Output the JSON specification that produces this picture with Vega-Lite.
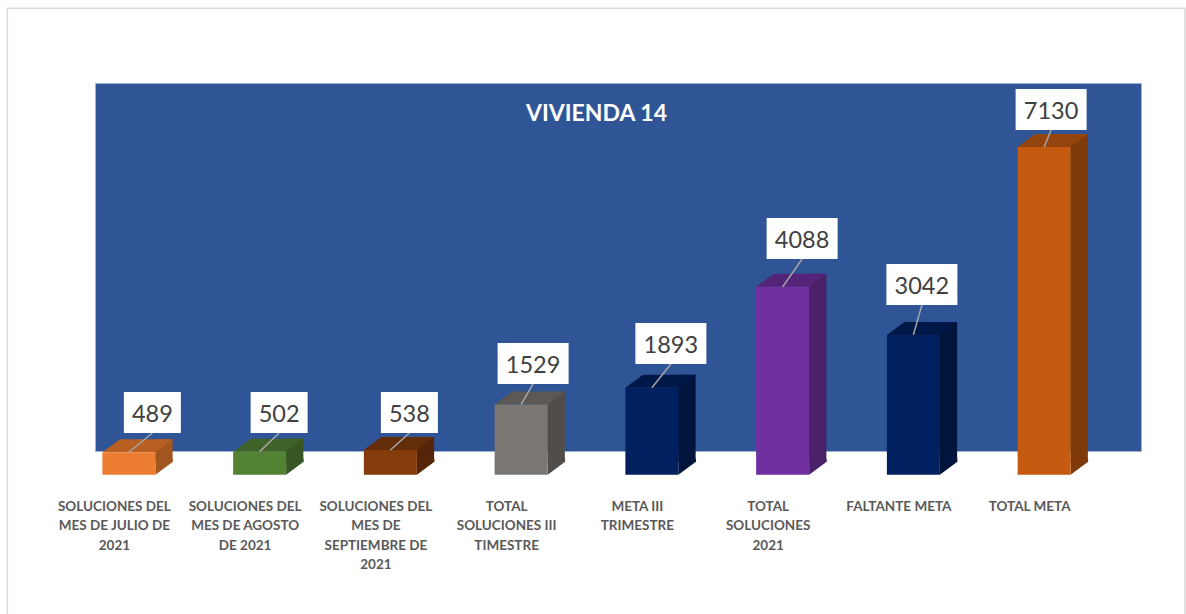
{
"$schema":"https://vega.github.io/schema/vega-lite/v6.json",
"width":1046,"height":368,
"autosize":{"type":"none"},
"padding":{"left":95,"top":83,"right":45,"bottom":163},
"background":"#FFFFFF",
"view":{"fill":"#2F5597","stroke":"#9DB2D5","strokeWidth":1},
"title":{"text":"VIVIENDA 14","anchor":"middle","align":"center","baseline":"middle","orient":"top","offset":0,"dx":-21.5,"dy":132,"font":"Lato","fontWeight":"bold","fontSize":23,"color":"#FFFFFF"},
"data":{"values":[
{"categoria":"SOLUCIONES DEL\nMES DE JULIO DE\n2021","valor":489},
{"categoria":"SOLUCIONES DEL\nMES DE AGOSTO\nDE 2021","valor":502},
{"categoria":"SOLUCIONES DEL\nMES DE\nSEPTIEMBRE DE\n2021","valor":538},
{"categoria":"TOTAL\nSOLUCIONES III\nTIMESTRE","valor":1529},
{"categoria":"META III\nTRIMESTRE","valor":1893},
{"categoria":"TOTAL\nSOLUCIONES\n2021","valor":4088},
{"categoria":"FALTANTE META","valor":3042},
{"categoria":"TOTAL META","valor":7130}
]},
"encoding":{
"x":{"field":"categoria","type":"nominal","sort":null,
"scale":{"type":"band","range":[-31.5,1014.5],"paddingInner":0,"paddingOuter":0},
"axis":{"title":null,"domain":false,"ticks":false,"grid":false,"labelAngle":0,"labelAlign":"center","labelBaseline":"top","labelPadding":48,"labelOffset":-14.5,"labelFont":"Lato","labelFontWeight":"bold","labelFontSize":13.5,"labelColor":"#595959","labelLineHeight":19.5,"labelOverlap":false,"labelBound":false,"labelFlush":false,"labelLimit":0,"labelExpr":"split(datum.label,'\\n')"}},
"y":{"field":"valor","type":"quantitative","scale":{"domain":[516,8523],"nice":false,"zero":false},"axis":null}
},
"resolve":{"scale":{"color":"independent","shape":"independent"}},
"layer":[
{"transform":[{"filter":"datum.valor==489"}],
 "mark":{"type":"point","filled":false,"opacity":1,"size":10000,"color":"#D9D9D9","strokeWidth":1.5,"shape":"M-2.43,3.2L-2.43,-9.33L21.12,-9.33L21.12,3.2"},
 "encoding":{"y":{"datum":0,"type":"quantitative"}}},
{"mark":{"type":"bar","size":17.5,"xOffset":35,"yOffset":-13,"y2Offset":-13},
 "encoding":{"y2":{"datum":0},"color":{"field":"valor","type":"nominal","legend":null,"scale":{"domain":[489,502,538,1529,1893,4088,3042,7130],"range":["#A0561E","#375623","#542508","#514E4A","#00143C","#4A2068","#00143C","#7F3A0B"]}}}},
{"mark":{"type":"point","filled":true,"opacity":1,"size":10000,"strokeWidth":0,"shape":"M0.53,0L0.88,-0.26L0.88,-0.32L0.53,-0.32Z"},
 "encoding":{"y":{"datum":0,"type":"quantitative"},"color":{"field":"valor","type":"nominal","legend":null,"scale":{"domain":[489,502,538,1529,1893,4088,3042,7130],"range":["#A0561E","#375623","#542508","#514E4A","#00143C","#4A2068","#00143C","#7F3A0B"]}}}},
{"mark":{"type":"point","filled":true,"opacity":1,"size":10000,"strokeWidth":0,"shape":"M-0.53,0L0.53,0L0.88,-0.26L-0.18,-0.26Z"},
 "encoding":{"color":{"field":"valor","type":"nominal","legend":null,"scale":{"domain":[489,502,538,1529,1893,4088,3042,7130],"range":["#B85F22","#3F6228","#642D09","#5C5955","#001848","#542478","#001848","#94440D"]}}}},
{"mark":{"type":"bar","size":53},
 "encoding":{"y2":{"datum":0},"color":{"field":"valor","type":"nominal","legend":null,"scale":{"domain":[489,502,538,1529,1893,4088,3042,7130],"range":["#ED7D31","#548235","#843C0C","#7B7672","#002060","#7030A0","#002060","#C55A11"]}}}},
{"mark":{"type":"point","filled":false,"opacity":1,"size":10000,"color":"#A6A6A6","strokeWidth":1.5},
 "encoding":{"shape":{"field":"valor","type":"nominal","legend":null,"scale":{"domain":[489,502,538,1529,1893,4088,3042,7130],"range":["M0,0L0.47,-0.384","M0,0L0.39,-0.372","M0,0L0.38,-0.34","M0,0L0.24,-0.41","M0,0L0.38,-0.474","M0,0L0.39,-0.556","M0,0L0.17,-0.598","M0,0L0.14,-0.34"]}}}},
{"mark":{"type":"point","filled":true,"opacity":1,"size":10000,"color":"#FFFFFF","strokeWidth":0},
 "encoding":{"shape":{"field":"valor","type":"nominal","legend":null,"scale":{"domain":[489,502,538,1529,1893,4088,3042,7130],"range":["M-0.10,-1.204H1.04V-0.384H-0.10Z","M-0.18,-1.192H0.96V-0.372H-0.18Z","M-0.19,-1.16H0.95V-0.34H-0.19Z","M-0.47,-1.23H0.95V-0.41H-0.47Z","M-0.33,-1.294H1.09V-0.474H-0.33Z","M-0.32,-1.376H1.10V-0.556H-0.32Z","M-0.54,-1.418H0.88V-0.598H-0.54Z","M-0.57,-1.16H0.85V-0.34H-0.57Z"]}}}},
{"mark":{"type":"text","font":"Lato","fontSize":23.5,"color":"#404040","align":"center","baseline":"middle",
 "dx":{"expr":"{'489':23.5,'502':19.5,'538':19,'1529':12,'1893':19,'4088':19.5,'3042':8.5,'7130':7}[datum.valor]"},
 "dy":{"expr":"{'489':-37.2,'502':-36.6,'538':-35,'1529':-38.5,'1893':-41.7,'4088':-45.8,'3042':-47.9,'7130':-35}[datum.valor]"}},
 "encoding":{"text":{"field":"valor","type":"quantitative","format":"d"}}}
]
}
